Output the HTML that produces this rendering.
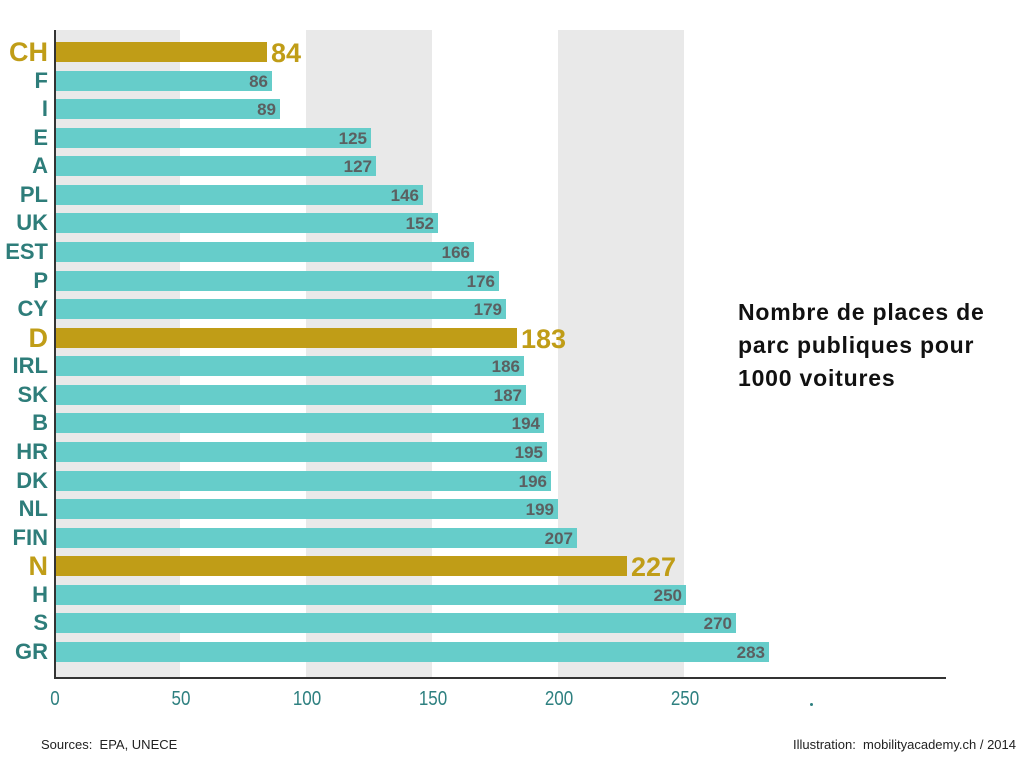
<!DOCTYPE html>
<html><head><meta charset="utf-8"><style>
body{margin:0;width:1024px;height:768px;background:#fff;position:relative;overflow:hidden;font-family:"Liberation Sans",sans-serif}
.band{position:absolute;top:30px;height:648px;background:#e9e9e9}
.r{position:absolute;left:0;height:20px;width:1024px}
.l{position:absolute;right:976px;top:-3px;font-weight:bold;font-size:22px;color:#2e7d7a;line-height:26px;white-space:nowrap}
.b{position:absolute;left:56px;top:0;height:20px;background:#66cdca}
.v{position:absolute;right:4px;top:1px;font-weight:bold;font-size:17px;color:#5b6061;line-height:20px}
.h .l{color:#c09d17;font-size:27px;top:-5px;line-height:30px}
.h .b{background:#c09d17}
.h .v{right:auto;left:100%;margin-left:4px;color:#c09d17;font-size:27px;top:-4px;line-height:30px}
.t{position:absolute;top:688px;font-size:20px;color:#2e8080;width:60px;text-align:center;margin-left:-30px;transform:scaleX(.85)}
</style></head><body>
<div class="band" style="left:56px;width:124px"></div>
<div class="band" style="left:306px;width:126px"></div>
<div class="band" style="left:558px;width:126px"></div>
<div style="position:absolute;left:54px;top:30px;width:2px;height:649px;background:#333"></div>
<div style="position:absolute;left:54px;top:677px;width:892px;height:2px;background:#333"></div>

<div class="r h" style="top:42px"><span class="l">CH</span><div class="b" style="width:211px"><span class="v">84</span></div></div>
<div class="r" style="top:70.6px"><span class="l">F</span><div class="b" style="width:216px"><span class="v">86</span></div></div>
<div class="r" style="top:99.1px"><span class="l">I</span><div class="b" style="width:224px"><span class="v">89</span></div></div>
<div class="r" style="top:127.7px"><span class="l">E</span><div class="b" style="width:315px"><span class="v">125</span></div></div>
<div class="r" style="top:156.3px"><span class="l">A</span><div class="b" style="width:320px"><span class="v">127</span></div></div>
<div class="r" style="top:184.9px"><span class="l">PL</span><div class="b" style="width:367px"><span class="v">146</span></div></div>
<div class="r" style="top:213.4px"><span class="l">UK</span><div class="b" style="width:382px"><span class="v">152</span></div></div>
<div class="r" style="top:242px"><span class="l">EST</span><div class="b" style="width:418px"><span class="v">166</span></div></div>
<div class="r" style="top:270.6px"><span class="l">P</span><div class="b" style="width:443px"><span class="v">176</span></div></div>
<div class="r" style="top:299.1px"><span class="l">CY</span><div class="b" style="width:450px"><span class="v">179</span></div></div>
<div class="r h" style="top:327.7px"><span class="l">D</span><div class="b" style="width:461px"><span class="v">183</span></div></div>
<div class="r" style="top:356.3px"><span class="l">IRL</span><div class="b" style="width:468px"><span class="v">186</span></div></div>
<div class="r" style="top:384.9px"><span class="l">SK</span><div class="b" style="width:470px"><span class="v">187</span></div></div>
<div class="r" style="top:413.4px"><span class="l">B</span><div class="b" style="width:488px"><span class="v">194</span></div></div>
<div class="r" style="top:442px"><span class="l">HR</span><div class="b" style="width:491px"><span class="v">195</span></div></div>
<div class="r" style="top:470.6px"><span class="l">DK</span><div class="b" style="width:495px"><span class="v">196</span></div></div>
<div class="r" style="top:499.1px"><span class="l">NL</span><div class="b" style="width:502px"><span class="v">199</span></div></div>
<div class="r" style="top:527.7px"><span class="l">FIN</span><div class="b" style="width:521px"><span class="v">207</span></div></div>
<div class="r h" style="top:556.3px"><span class="l">N</span><div class="b" style="width:571px"><span class="v">227</span></div></div>
<div class="r" style="top:584.9px"><span class="l">H</span><div class="b" style="width:630px"><span class="v">250</span></div></div>
<div class="r" style="top:613.4px"><span class="l">S</span><div class="b" style="width:680px"><span class="v">270</span></div></div>
<div class="r" style="top:642px"><span class="l">GR</span><div class="b" style="width:713px"><span class="v">283</span></div></div>

<div class="t" style="left:55px">0</div>
<div class="t" style="left:181px">50</div>
<div class="t" style="left:307px">100</div>
<div class="t" style="left:433px">150</div>
<div class="t" style="left:559px">200</div>
<div class="t" style="left:685px">250</div>
<div style="position:absolute;left:810px;top:703px;width:3px;height:3px;background:#2e8080;border-radius:50%"></div>

<div style="position:absolute;left:738px;top:296px;font-weight:bold;font-size:23px;letter-spacing:0.8px;line-height:33px;color:#111;white-space:nowrap">Nombre de places de<br>parc publiques pour<br>1000 voitures</div>
<div style="position:absolute;left:41px;top:737px;font-size:13px;color:#222">Sources:&nbsp; EPA, UNECE</div>
<div style="position:absolute;right:8px;top:737px;font-size:13px;color:#222">Illustration:&nbsp; mobilityacademy.ch / 2014</div>
</body></html>
